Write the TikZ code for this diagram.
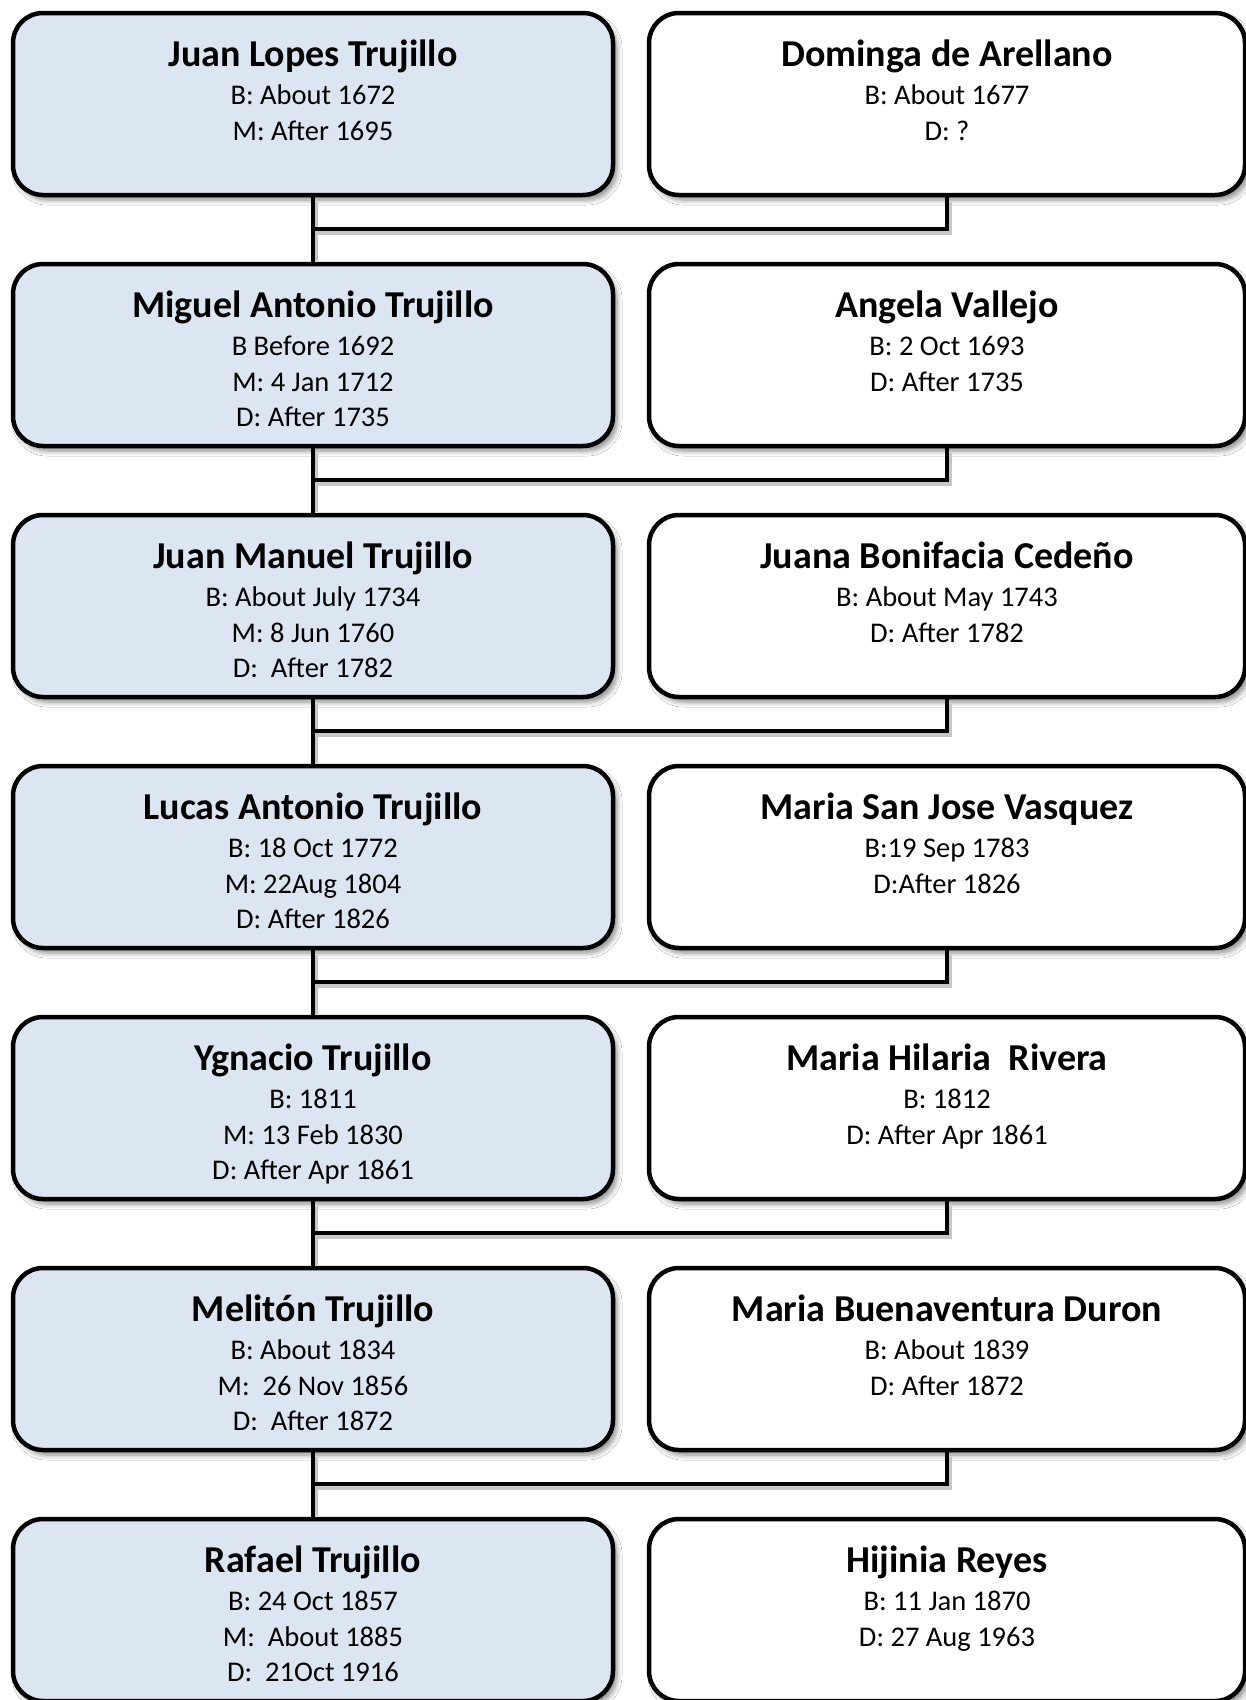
\documentclass[tikz,border=0pt]{standalone}
\usepackage{fontspec}
\setmainfont{Carlito}
\usetikzlibrary{shadows.blur}
\definecolor{boxblue}{HTML}{DCE6F2}
\tikzset{
  person/.style={draw=black, line width=4.5pt, rounded corners=30pt,
    minimum height=182pt, inner sep=0pt,
    blur shadow={shadow xshift=4pt, shadow yshift=-5pt, shadow blur radius=5pt,
      shadow blur steps=6, shadow opacity=45}},
  mansbox/.style={person, fill=boxblue, minimum width=600pt},
  wifebox/.style={person, fill=white, minimum width=596pt},
  pname/.style={anchor=base, inner sep=0pt, font=\fontsize{38}{42}\selectfont\bfseries},
  pline/.style={anchor=base, inner sep=0pt, font=\fontsize{28.5}{33}\selectfont},
  link/.style={line width=4.5pt, draw=black},
  linkshadow/.style={line width=5pt, draw=black!22, transform canvas={xshift=2pt,yshift=-3pt}}
}
\newcommand\famrow[5]{%
  \pgfmathsetmacro\rowtop{-(11+251*#1)}
  \node[mansbox] (lb#1) at (313,{\rowtop-93}) {};
  \node[wifebox] (rb#1) at (947,{\rowtop-93}) {};
  \node[pname] (ln#1) at (313,{\rowtop-55}) {#2};
  \foreach \t [count=\k] in {#3} {
    \node[pline] (ld#1x\k) at (313,{\rowtop-93.5-35.5*(\k-1)}) {\t};
  }
  \node[pname] (rn#1) at (947,{\rowtop-55}) {#4};
  \foreach \t [count=\k] in {#5} {
    \node[pline] (rd#1x\k) at (947,{\rowtop-93.5-35.5*(\k-1)}) {\t};
  }
}
\newcommand\famlink[2]{%
  \pgfmathsetmacro\rowtop{-(11+251*#1)}
  \coordinate (m#1) at (313,{\rowtop-218});
  \draw[linkshadow, shorten <=2pt, shorten >=4pt] (lb#1.south) -- (lb#2.north);
  \draw[linkshadow, shorten <=2pt] (rb#1.south) |- (m#1);
  \draw[link] (lb#1.south) -- (lb#2.north);
  \draw[link] (rb#1.south) |- (m#1);
}
\begin{document}
\begin{tikzpicture}[x=1pt,y=1pt]
\useasboundingbox[fill=white] (0,0) rectangle (1246,-1700);
\famrow{0}{Juan Lopes Trujillo}{B: About 1672,M: After 1695}{Dominga de Arellano}{B: About 1677,D: ?}
\famrow{1}{Miguel Antonio Trujillo}{B Before 1692,M: 4 Jan 1712,D: After 1735}{Angela Vallejo}{B: 2 Oct 1693,D: After 1735}
\famrow{2}{Juan Manuel Trujillo}{B: About July 1734,M: 8 Jun 1760,D:~ After 1782}{Juana Bonifacia Cedeño}{B: About May 1743,D: After 1782}
\famrow{3}{Lucas Antonio Trujillo}{B: 18 Oct 1772,M: 22Aug 1804,D: After 1826}{Maria San Jose Vasquez}{B:19 Sep 1783,D:After 1826}
\famrow{4}{Ygnacio Trujillo}{B: 1811,M: 13 Feb 1830,D: After Apr 1861}{Maria Hilaria~ Rivera}{B: 1812,D: After Apr 1861}
\famrow{5}{Melitón Trujillo}{B: About 1834,M:~ 26 Nov 1856,D:~ After 1872}{Maria Buenaventura Duron}{B: About 1839,D: After 1872}
\famrow{6}{Rafael Trujillo}{B: 24 Oct 1857,M:~ About 1885,D:~ 21Oct 1916}{Hijinia Reyes}{B: 11 Jan 1870,D: 27 Aug 1963}
\famlink{0}{1}
\famlink{1}{2}
\famlink{2}{3}
\famlink{3}{4}
\famlink{4}{5}
\famlink{5}{6}
\end{tikzpicture}
\end{document}
